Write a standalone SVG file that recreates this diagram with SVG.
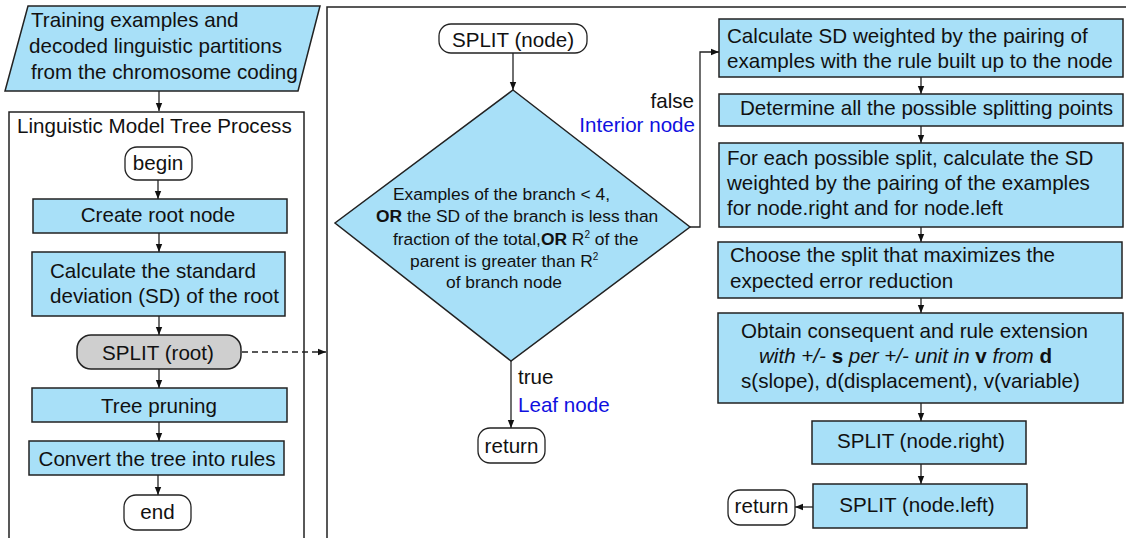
<svg xmlns="http://www.w3.org/2000/svg" width="1126" height="538" viewBox="0 0 1126 538">
<defs>
<style>
text{font-family:"Liberation Sans",Arial,sans-serif;font-size:20.6px;fill:#111}
.d{font-size:17.4px}
.blue{fill:#1010e0}
.box{fill:#a8e0f8;stroke:#222;stroke-width:1.5}
.term{fill:#fff;stroke:#222;stroke-width:1.3}
.frame{fill:none;stroke:#222;stroke-width:1.5}
.c{fill:none;stroke:#222;stroke-width:1.3}
.m{text-anchor:middle}
</style>
<marker id="ah" viewBox="0 0 10 10" refX="10" refY="5" markerWidth="9" markerHeight="8" markerUnits="userSpaceOnUse" orient="auto">
<path d="M0,1 L10,5 L0,9 z" fill="#111"/>
</marker>
</defs>
<rect width="1126" height="538" fill="#fff"/>

<g id="frame-left"><rect class="frame" x="9" y="112" width="295" height="460"/><text x="17" y="133">Linguistic Model Tree Process</text></g>
<g id="frame-right"><rect class="frame" x="327" y="7" width="820" height="560"/></g>

<g id="input"><polygon class="box" points="28,6 320,6 298,91 5,91"/>
<text x="31" y="27">Training examples and</text>
<text x="29" y="53">decoded linguistic partitions</text>
<text x="31" y="79">from the chromosome coding</text></g>

<g id="begin"><rect class="term" x="125" y="147" width="67" height="33" rx="12"/><text class="m" x="158" y="170">begin</text></g>
<g id="create-root"><rect class="box" x="33" y="199" width="254" height="34"/><text class="m" x="158" y="222">Create root node</text></g>
<g id="calc-sd-root"><rect class="box" x="32" y="252" width="253" height="64"/><text x="50" y="278">Calculate the standard</text><text x="50" y="303">deviation (SD) of the root</text></g>
<g id="split-root"><rect x="77" y="335" width="164" height="34" rx="14" fill="#cfcfcf" stroke="#222" stroke-width="1.5"/><text class="m" x="158" y="360">SPLIT (root)</text></g>
<g id="pruning"><rect class="box" x="32" y="388" width="255" height="34"/><text class="m" x="159" y="413">Tree pruning</text></g>
<g id="convert"><rect class="box" x="29" y="441" width="255" height="34"/><text class="m" x="157" y="466">Convert the tree into rules</text></g>
<g id="end"><rect class="term" x="124" y="495" width="67" height="35" rx="12"/><text class="m" x="157.5" y="519">end</text></g>

<g id="split-node"><rect class="term" x="439" y="24" width="148" height="29" rx="12"/><text class="m" x="513" y="47">SPLIT (node)</text></g>
<g id="decision"><polygon class="box" points="513,90 690,227 511,361 335,223"/>
<text class="d" x="393" y="200">Examples of the branch &lt; 4,</text>
<text class="d" x="376" y="222"><tspan font-weight="bold">OR</tspan> the SD of the branch is less than</text>
<text class="d" x="393" y="245">fraction of the total,<tspan font-weight="bold">OR</tspan> R<tspan font-size="10" dy="-7">2</tspan><tspan dy="7"> of the</tspan></text>
<text class="d" x="410" y="267">parent is greater than R<tspan font-size="10" dy="-7">2</tspan></text>
<text class="d" x="446" y="288">of branch node</text></g>
<g id="return-leaf"><rect class="term" x="478" y="428" width="67" height="35" rx="12"/><text class="m" x="511.5" y="453">return</text></g>

<g id="calc-sd-weighted"><rect class="box" x="719" y="19" width="404" height="58"/><text x="727" y="43">Calculate SD weighted by the pairing of</text><text x="727" y="68">examples with the rule built up to the node</text></g>
<g id="determine"><rect class="box" x="719" y="94" width="404" height="32"/><text x="740" y="115">Determine all the possible splitting points</text></g>
<g id="for-each"><rect class="box" x="719" y="143" width="404" height="84"/><text x="727" y="165">For each possible split, calculate the SD</text><text x="727" y="190">weighted by the pairing of the examples</text><text x="727" y="215">for node.right and for node.left</text></g>
<g id="choose"><rect class="box" x="718" y="242" width="404" height="56"/><text x="730" y="262">Choose the split that maximizes the</text><text x="730" y="288">expected error reduction</text></g>
<g id="obtain"><rect class="box" x="718" y="313" width="405" height="90"/>
<text x="741" y="338">Obtain consequent and rule extension</text>
<text x="759" y="363" font-style="italic">with +/- <tspan font-weight="bold" font-style="normal">s</tspan> per +/- unit in <tspan font-weight="bold" font-style="normal">v</tspan> from <tspan font-weight="bold" font-style="normal">d</tspan></text>
<text x="741" y="388">s(slope), d(displacement), v(variable)</text></g>
<g id="split-right"><rect class="box" x="812" y="421" width="214" height="43"/><text class="m" x="921" y="448">SPLIT (node.right)</text></g>
<g id="split-left"><rect class="box" x="813" y="484" width="214" height="44"/><text class="m" x="917" y="512">SPLIT (node.left)</text></g>
<g id="return-end"><rect class="term" x="728" y="490" width="67" height="35" rx="12"/><text class="m" x="761.5" y="513">return</text></g>

<g id="labels">
<text x="694" y="108" text-anchor="end">false</text>
<text class="blue" x="695" y="132" text-anchor="end">Interior node</text>
<text x="518" y="384">true</text>
<text class="blue" x="518" y="412">Leaf node</text>
</g>

<g id="connectors">
<path class="c" d="M159,91 V111" marker-end="url(#ah)"/>
<path class="c" d="M158,180 V199" marker-end="url(#ah)"/>
<path class="c" d="M159,233 V252" marker-end="url(#ah)"/>
<path class="c" d="M159,316 V335" marker-end="url(#ah)"/>
<path class="c" d="M159,369 V388" marker-end="url(#ah)"/>
<path class="c" d="M159,422 V441" marker-end="url(#ah)"/>
<path class="c" d="M158,475 V495" marker-end="url(#ah)"/>
<path class="c" d="M242,352 H326" stroke-dasharray="6,4" marker-end="url(#ah)"/>
<path class="c" d="M513,53 V90" marker-end="url(#ah)"/>
<path class="c" d="M511,361 V428" marker-end="url(#ah)"/>
<path class="c" d="M690,227 H700 V52 H719" marker-end="url(#ah)"/>
<path class="c" d="M921,77 V94" marker-end="url(#ah)"/>
<path class="c" d="M921,126 V143" marker-end="url(#ah)"/>
<path class="c" d="M921,227 V242" marker-end="url(#ah)"/>
<path class="c" d="M921,298 V313" marker-end="url(#ah)"/>
<path class="c" d="M921,403 V421" marker-end="url(#ah)"/>
<path class="c" d="M921,464 V484" marker-end="url(#ah)"/>
<path class="c" d="M813,507 H795" marker-end="url(#ah)"/>
</g>
</svg>
